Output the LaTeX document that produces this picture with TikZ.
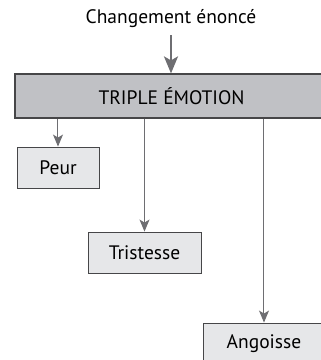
\documentclass[tikz,border=0pt]{standalone}
\usepackage{fontspec}
\setmainfont{PT Sans}
\usepackage{tikz}
\usetikzlibrary{positioning}
\usetikzlibrary{arrows.meta, shapes}
\definecolor{boxgray}{RGB}{192,193,197}
\definecolor{lightgray}{RGB}{230,231,233}
\definecolor{linegray}{RGB}{110,110,114}
\definecolor{edgegray}{RGB}{70,70,72}
\tikzstyle{mainbox} = [rectangle, minimum width=340pt, minimum height=44pt, inner sep=0pt, text centered, draw=edgegray, line width=1.2pt, fill=boxgray]
\tikzstyle{emobox} = [rectangle, minimum height=41pt, inner sep=0pt, text centered, draw=edgegray, line width=0.9pt, fill=lightgray]
\tikzstyle{bigarrow} = [linegray, line width=2.4pt, -{Stealth[length=17pt,width=14pt,inset=4pt]}]
\tikzstyle{arrow} = [linegray, line width=1pt, -{Stealth[length=12pt,width=10pt,inset=3pt]}]

\begin{document}
\begin{tikzpicture}[x=1pt,y=-1pt,font=\fontsize{19.5}{22}\selectfont]
\useasboundingbox (0,0) rectangle (321,360);
\clip (0,0) rectangle (321,360);
\node (change) at (171,19) {Changement énoncé};
\node[mainbox] (triple) at (185,96) {};
\node (tripletext) at (171.5,96) {TRIPLE ÉMOTION};
\node[emobox, minimum width=82pt] (peur) at (58,167.5) {Peur};
\node[emobox, minimum width=113pt] (tristesse) at (144.5,252.5) {Tristesse};
\node[emobox, minimum width=122pt] (angoisse) at (264,343.5) {Angoisse};
\draw[bigarrow] (171,35) -- (triple.north -| 171,0);
\draw[arrow] (peur |- triple.south) -- (peur.north);
\draw[arrow] (tristesse |- triple.south) -- (tristesse.north);
\draw[arrow] (angoisse |- triple.south) -- (angoisse.north);
\end{tikzpicture}
\end{document}
